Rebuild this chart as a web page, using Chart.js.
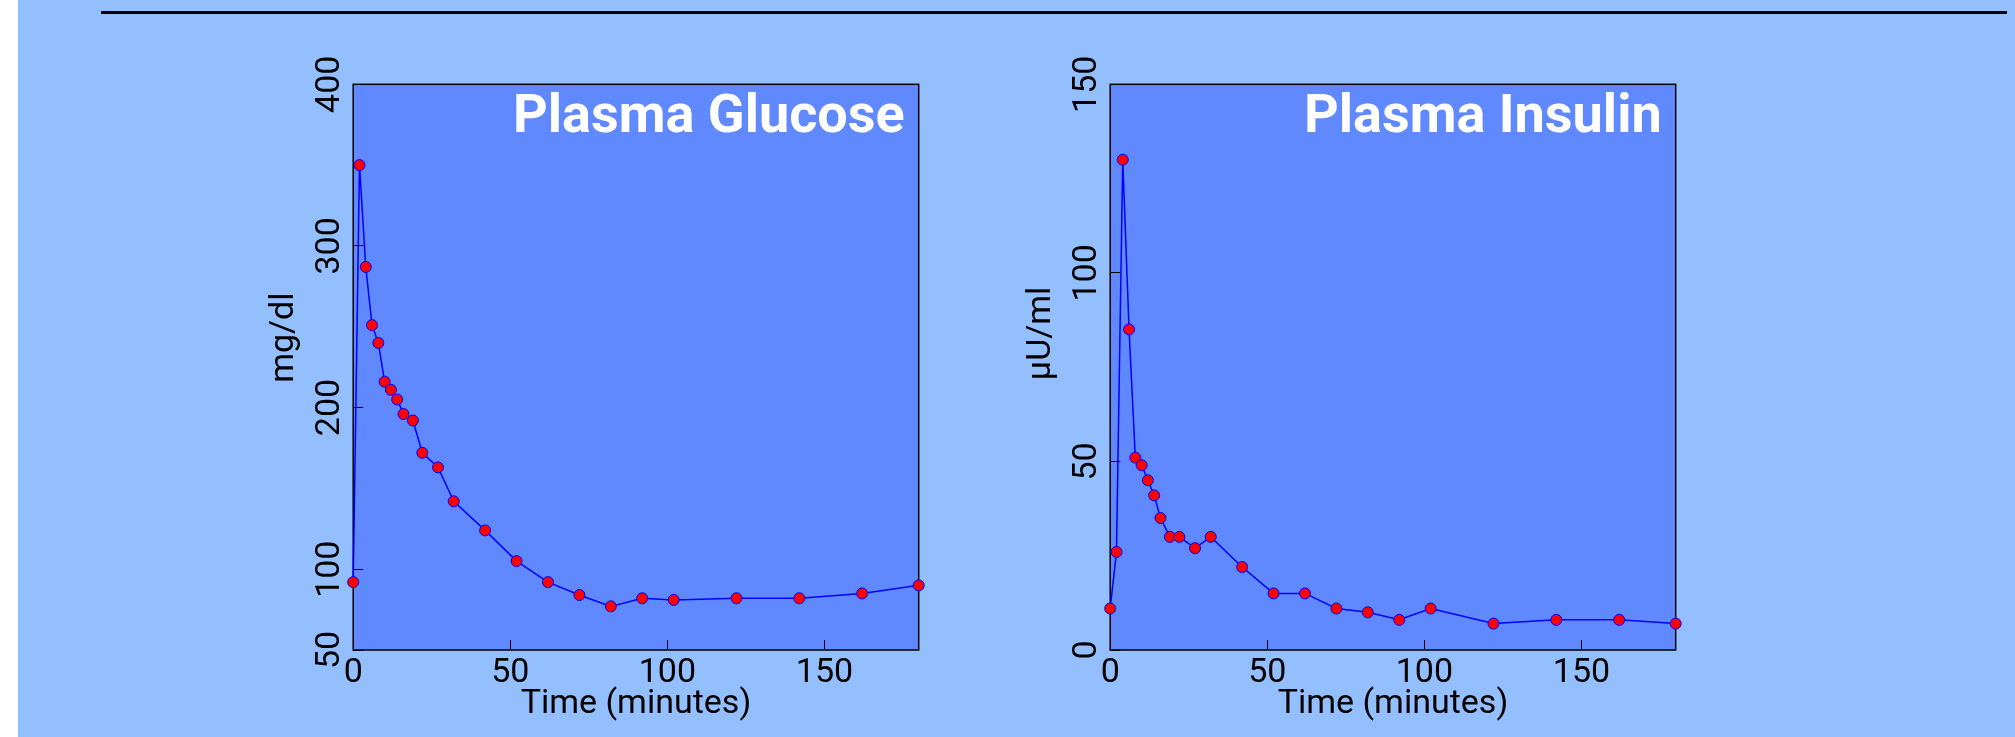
<!DOCTYPE html>
<html>
<head>
<meta charset="utf-8">
<script src="https://cdn.jsdelivr.net/npm/chart.js@4"></script>
<style>
  html, body { margin: 0; padding: 0; background: #fff; }
  #page { position: absolute; left: 18px; top: 0; width: 1997px; height: 737px; background: #94bfff; }
  #rule { position: absolute; left: 101px; top: 11px; width: 1906px; height: 3px; background: #000; }
  .box { position: absolute; top: 0; width: 760px; height: 737px; }
</style>
</head>
<body>
<div id="page"></div>
<div id="rule"></div>
<div class="box" style="left:200px"><canvas id="glucose"></canvas></div>
<div class="box" style="left:956.5px"><canvas id="insulin"></canvas></div>
<script>
// sampling times (minutes) and measurements
const minutes = [0, 2, 4, 6, 8, 10, 12, 14, 16, 19, 22, 27, 32, 42, 52, 62, 72, 82, 92, 102, 122, 142, 162, 180];
const glucose = [92, 350, 287, 251, 240, 216, 211, 205, 196, 192, 172, 163, 142, 124, 105, 92, 84, 77, 82, 81, 82, 82, 85, 90];
const insulin = [11, 26, 130, 85, 51, 49, 45, 41, 35, 30, 30, 27, 30, 22, 15, 15, 11, 10, 8, 11, 7, 8, 8, 7];

const timeTicks = [0, 50, 100, 150];
const glucoseTicks = [50, 100, 200, 300, 400];
const insulinTicks = [0, 50, 100, 150];

const font = { family: 'Roboto', size: 34 };

// fills the axes face, draws the black frame and the panel title
const plotFrame = {
  id: 'plotFrame',
  beforeDraw(chart) {
    const { ctx, chartArea: a } = chart;
    ctx.save();
    ctx.fillStyle = '#6089ff';
    ctx.fillRect(a.left, a.top, a.right - a.left, a.bottom - a.top);
    ctx.restore();
  },
  beforeDatasetsDraw(chart, args, opts) {
    const { ctx, chartArea: a } = chart;
    ctx.save();
    ctx.strokeStyle = '#000';
    ctx.lineWidth = 1.5;
    ctx.strokeRect(a.left, a.top, a.right - a.left, a.bottom - a.top);
    ctx.fillStyle = '#fff';
    ctx.font = 'bold 54px Roboto';
    ctx.textAlign = 'right';
    ctx.textBaseline = 'alphabetic';
    ctx.fillText(opts.title, a.right - 14, a.top + 47.4);
    ctx.restore();
  }
};

function makeChart(id, values, yMin, yMax, yTicks, yLabel, title) {
  const tickGrid = { drawOnChartArea: false, tickLength: -10, color: '#000', lineWidth: 1 };
  return new Chart(document.getElementById(id), {
    type: 'line',
    data: {
      datasets: [{
        data: minutes.map((t, i) => ({ x: t, y: values[i] })),
        borderColor: '#0000ff',
        borderWidth: 1.5,
        pointBackgroundColor: '#ff0000',
        pointBorderColor: '#0000ff',
        pointBorderWidth: 1,
        pointRadius: 5.5,
        tension: 0,
        clip: false
      }]
    },
    options: {
      responsive: true,
      maintainAspectRatio: false,
      animation: false,
      layout: { padding: { left: 0, top: 84.3, right: 41.3, bottom: 12.4 } },
      plugins: {
        legend: { display: false },
        tooltip: { enabled: false },
        plotFrame: { title: title }
      },
      scales: {
        x: {
          type: 'linear',
          min: 0,
          max: 180,
          afterBuildTicks: s => { s.ticks = timeTicks.map(v => ({ value: v })); },
          afterFit: s => { s.height = 74.6; },
          grid: tickGrid,
          border: { display: false },
          ticks: { color: '#000', font: font, padding: 13.4, maxRotation: 0 },
          title: { display: true, text: 'Time (minutes)', color: '#000', font: font, padding: 0 }
        },
        y: {
          type: 'linear',
          min: yMin,
          max: yMax,
          afterBuildTicks: s => { s.ticks = yTicks.map(v => ({ value: v })); },
          afterFit: s => { s.width = 153.2; },
          grid: tickGrid,
          border: { display: false },
          ticks: { color: '#000', font: font, padding: 4.4, minRotation: 90, maxRotation: 90, crossAlign: 'center' },
          title: { display: true, text: yLabel, color: '#000', font: font, padding: { top: 64, bottom: 0 } }
        }
      }
    },
    plugins: [plotFrame]
  });
}

makeChart('glucose', glucose, 50, 400, glucoseTicks, '       mg/dl', 'Plasma Glucose');
makeChart('insulin', insulin, 0, 150, insulinTicks, '        \u00b5U/ml', 'Plasma Insulin');
</script>
</body>
</html>
